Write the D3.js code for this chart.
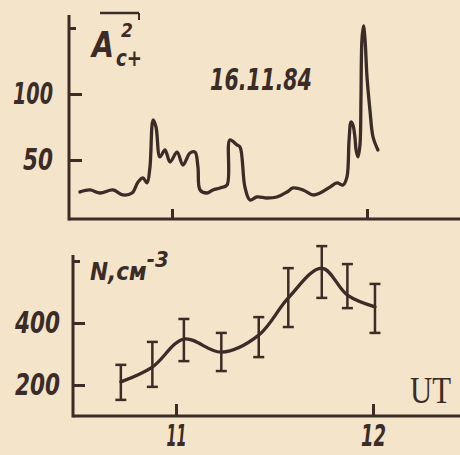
<!DOCTYPE html>
<html>
<head>
<meta charset="utf-8">
<script src="https://cdn.jsdelivr.net/npm/d3@7"></script>
<style>
  html, body { margin: 0; padding: 0; background: #f4e4c9; }
  svg { display: block; }
</style>
</head>
<body>
<div id="chart"></div>
<script>
// Upper panel: A_c+^2 trace, 16.11.84
const ampTime = [10.528, 10.579, 10.631, 10.697, 10.749, 10.795, 10.826, 10.851, 10.872, 10.887,
    10.903, 10.918, 10.938, 10.964, 10.990, 11.026, 11.056, 11.092, 11.118, 11.133,
    11.144, 11.179, 11.210, 11.246, 11.282, 11.297, 11.333, 11.349, 11.374, 11.400,
    11.436, 11.487, 11.538, 11.590, 11.621, 11.672, 11.723, 11.759, 11.810, 11.846,
    11.877, 11.897, 11.908, 11.918, 11.928, 11.938, 11.944, 11.954, 11.964, 11.969,
    11.974, 11.982, 11.990, 12.000, 12.015, 12.031, 12.056];
const ampValue = [25.8, 27.3, 25.0, 27.3, 23.5, 25.0, 33.3, 36.4, 32.6, 44.7,
    80.3, 75.0, 52.3, 57.6, 48.5, 56.0, 46.2, 55.3, 56.0, 44.7,
    27.3, 25.0, 27.3, 28.8, 31.0, 65.2, 61.4, 59.8, 29.5, 19.7,
    22.0, 21.2, 22.0, 25.8, 28.8, 27.3, 23.5, 25.0, 29.5, 32.6,
    31.0, 37.0, 65.0, 78.8, 76.5, 67.4, 57.6, 52.3, 61.4, 95.5,
    140.9, 151.5, 140.9, 112.9, 87.9, 67.4, 57.6];
const ampTickMarks = [50, 100, 150];
const ampTickLabels = [50, 100];

// Lower panel: N, cm^-3 with error bars
const nTime = [10.72, 10.88, 11.04, 11.23, 11.42, 11.57, 11.74, 11.87, 12.01];
const nValue = [210, 258, 348, 306, 361, 481, 577, 490, 452];
const nLow = [152, 194, 277, 245, 290, 387, 481, 448, 368];
const nHigh = [265, 339, 413, 368, 419, 577, 648, 590, 526];
const nTickMarks = [200, 400, 600];
const nTickLabels = [200, 400];

const hourTicks = [11, 12];

const ink = "#3b2c27";
const paper = "#f4e4c9";
const hand = "'DejaVu Sans Condensed', 'DejaVu Sans', sans-serif";

// rough width of hand-lettered digits
const digitWidth = s => s.split("").reduce((w, c) => w + (c === "1" ? 10 : 15), 0);

const svg = d3.select("#chart")
    .append("svg")
    .attr("width", 460)
    .attr("height", 455);

svg.append("rect")
    .attr("width", 460)
    .attr("height", 455)
    .attr("fill", paper);

// ---------- upper panel ----------
const xTop = d3.scaleLinear().domain([11, 12]).range([172, 367]);
const yTop = d3.scaleLinear().domain([0, 150]).range([226, 28]);
const topLeft = 69, topBase = 219;

const yAxisTop = svg.append("g")
    .attr("transform", `translate(${topLeft},0)`)
    .call(d3.axisLeft(yTop)
        .tickValues(ampTickMarks)
        .tickSize(-13)
        .tickPadding(16)
        .tickFormat(d => ampTickLabels.includes(d) ? d : ""));

const xAxisTop = svg.append("g")
    .attr("transform", `translate(0,${topBase})`)
    .call(d3.axisBottom(xTop)
        .tickValues(hourTicks)
        .tickSize(-10)
        .tickFormat(""));

svg.append("line")
    .attr("x1", topLeft).attr("x2", topLeft)
    .attr("y1", 15).attr("y2", topBase + 1.5)
    .attr("stroke", ink).attr("stroke-width", 3);
svg.append("line")
    .attr("x1", topLeft).attr("x2", 460)
    .attr("y1", topBase).attr("y2", topBase)
    .attr("stroke", ink).attr("stroke-width", 3);

const ampData = ampTime.map((t, i) => ({ t: t, v: ampValue[i] }));
svg.append("path")
    .datum(ampData)
    .attr("fill", "none")
    .attr("stroke", ink)
    .attr("stroke-width", 3.3)
    .attr("stroke-linejoin", "round")
    .attr("stroke-linecap", "round")
    .attr("d", d3.line()
        .x(d => xTop(d.t))
        .y(d => yTop(d.v))
        .curve(d3.curveCatmullRom.alpha(0.5)));

// axis title A^2_c+ with overline
svg.append("line")
    .attr("x1", 100).attr("x2", 139)
    .attr("y1", 13).attr("y2", 13)
    .attr("stroke", ink).attr("stroke-width", 2.5);
svg.append("line")
    .attr("x1", 139).attr("x2", 139)
    .attr("y1", 13).attr("y2", 20)
    .attr("stroke", ink).attr("stroke-width", 2);
const ampTitle = svg.append("text")
    .attr("x", 92).attr("y", 57)
    .attr("font-family", hand).attr("font-style", "italic").attr("font-weight", "bold")
    .attr("fill", ink);
ampTitle.append("tspan")
    .attr("font-size", 36)
    .attr("textLength", 22).attr("lengthAdjust", "spacingAndGlyphs")
    .text("A");
ampTitle.append("tspan")
    .attr("x", 121).attr("y", 37)
    .attr("font-size", 19)
    .text("2");
ampTitle.append("tspan")
    .attr("x", 116).attr("y", 66)
    .attr("font-size", 23)
    .attr("textLength", 26).attr("lengthAdjust", "spacingAndGlyphs")
    .text("c+");

svg.append("text")
    .attr("x", 210).attr("y", 90)
    .attr("font-family", hand).attr("font-style", "italic").attr("font-weight", "bold")
    .attr("font-size", 30).attr("fill", ink)
    .attr("textLength", 102).attr("lengthAdjust", "spacingAndGlyphs")
    .text("16.11.84");

// ---------- lower panel ----------
const xBot = d3.scaleLinear().domain([11, 12]).range([176, 373]);
const yBot = d3.scaleLinear().domain([200, 400]).range([385, 323]);
const botLeft = 73, botBase = 416;

const yAxisBot = svg.append("g")
    .attr("transform", `translate(${botLeft},0)`)
    .call(d3.axisLeft(yBot)
        .tickValues(nTickMarks)
        .tickSize(-12)
        .tickPadding(13)
        .tickFormat(d => nTickLabels.includes(d) ? d : ""));

const xAxisBot = svg.append("g")
    .attr("transform", `translate(0,${botBase})`)
    .call(d3.axisBottom(xBot)
        .tickValues(hourTicks)
        .tickSize(-12)
        .tickPadding(9)
        .tickFormat(d3.format("d")));

svg.append("line")
    .attr("x1", botLeft).attr("x2", botLeft)
    .attr("y1", 255).attr("y2", botBase + 1.5)
    .attr("stroke", ink).attr("stroke-width", 3);
svg.append("line")
    .attr("x1", botLeft).attr("x2", 460)
    .attr("y1", botBase).attr("y2", botBase)
    .attr("stroke", ink).attr("stroke-width", 3);

const nData = nTime.map((t, i) => ({ t: t, v: nValue[i], lo: nLow[i], hi: nHigh[i] }));

const bars = svg.append("g")
    .selectAll("g")
    .data(nData)
    .enter()
    .append("g");
bars.append("line")
    .attr("x1", d => xBot(d.t)).attr("x2", d => xBot(d.t))
    .attr("y1", d => yBot(d.lo)).attr("y2", d => yBot(d.hi))
    .attr("stroke", ink).attr("stroke-width", 2.5);
bars.append("line")
    .attr("x1", d => xBot(d.t) - 5.5).attr("x2", d => xBot(d.t) + 5.5)
    .attr("y1", d => yBot(d.lo)).attr("y2", d => yBot(d.lo))
    .attr("stroke", ink).attr("stroke-width", 2.5);
bars.append("line")
    .attr("x1", d => xBot(d.t) - 5.5).attr("x2", d => xBot(d.t) + 5.5)
    .attr("y1", d => yBot(d.hi)).attr("y2", d => yBot(d.hi))
    .attr("stroke", ink).attr("stroke-width", 2.5);

svg.append("path")
    .datum(nData)
    .attr("fill", "none")
    .attr("stroke", ink)
    .attr("stroke-width", 3.3)
    .attr("stroke-linecap", "round")
    .attr("d", d3.line()
        .x(d => xBot(d.t))
        .y(d => yBot(d.v))
        .curve(d3.curveCatmullRom.alpha(0.5)));

const nTitle = svg.append("text")
    .attr("x", 90).attr("y", 280)
    .attr("font-family", hand).attr("font-style", "italic").attr("font-weight", "bold")
    .attr("font-size", 24).attr("fill", ink);
nTitle.append("tspan").text("N,см");
nTitle.append("tspan")
    .attr("dy", -13)
    .attr("font-size", 22)
    .text("-3");

svg.append("text")
    .attr("x", 410).attr("y", 403)
    .attr("font-family", "'Liberation Serif', serif")
    .attr("font-size", 37).attr("fill", ink)
    .attr("textLength", 41).attr("lengthAdjust", "spacingAndGlyphs")
    .text("UT");

// ---------- axis styling ----------
[yAxisTop, xAxisTop, yAxisBot, xAxisBot].forEach(ax => {
    ax.select(".domain").remove();
    ax.selectAll(".tick line").attr("stroke", ink).attr("stroke-width", 3);
    ax.selectAll(".tick text")
        .attr("fill", ink)
        .attr("font-family", hand)
        .attr("font-style", "italic")
        .attr("font-weight", "bold")
        .attr("font-size", 30)
        .attr("lengthAdjust", "spacingAndGlyphs")
        .attr("textLength", function () { return digitWidth(this.textContent); });
});
// top-most tick marks are short
yAxisTop.selectAll(".tick line").attr("x2", d => d === 150 ? 7 : 13);
yAxisBot.selectAll(".tick line").attr("x2", d => d === 600 ? 7 : 12);
</script>
</body>
</html>
